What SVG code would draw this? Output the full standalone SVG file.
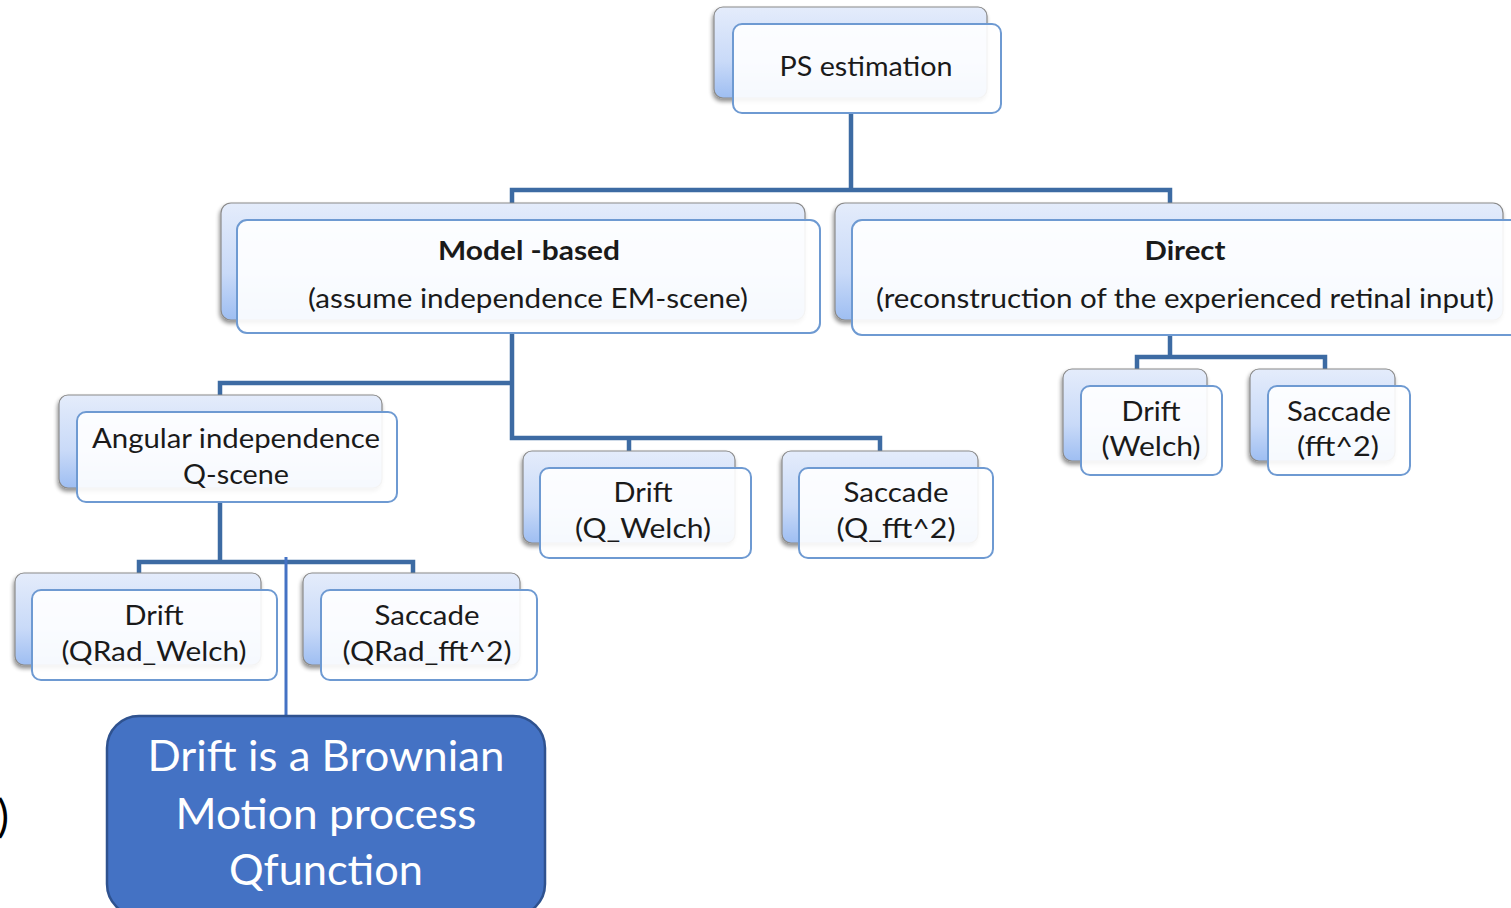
<svg xmlns="http://www.w3.org/2000/svg" width="1511" height="908" viewBox="0 0 1511 908">
<defs>
<linearGradient id="bg" x1="0" y1="0" x2="0" y2="1">
<stop offset="0" stop-color="#E4ECFB"/>
<stop offset="0.6" stop-color="#C9DAF8"/>
<stop offset="1" stop-color="#9EBEF2"/>
</linearGradient>
<filter id="sh" x="-10%" y="-10%" width="120%" height="130%">
<feGaussianBlur in="SourceAlpha" stdDeviation="2"/>
<feOffset dx="-1" dy="3"/>
<feComponentTransfer><feFuncA type="linear" slope="0.45"/></feComponentTransfer>
<feMerge><feMergeNode/><feMergeNode in="SourceGraphic"/></feMerge>
</filter>
</defs>
<style>
.back{fill:url(#bg);stroke:#8A8A8A;stroke-width:1.2;filter:url(#sh)}
.front{fill:#FFFFFF;fill-opacity:0.9;stroke:#6E9AD2;stroke-width:2}
.t{font-family:Lato,"Open Sans",sans-serif;font-size:27px;fill:#1A1A1A;text-anchor:middle}
.b{font-weight:bold}
.conn{fill:none;stroke:#3D6BA3;stroke-width:4.5;stroke-linejoin:miter}
.call{fill:#4472C4;stroke:#2F528F;stroke-width:2.5}
.ct{font-family:Lato,"Open Sans",sans-serif;font-size:42px;fill:#FFFFFF;text-anchor:middle}
</style>
<rect width="1511" height="908" fill="#FFFFFF"/>
<g id="connectors">
<path class="conn" d="M851 113 V190 M512 203 V190 H1170 V203"/>
<path class="conn" d="M512 333 V438 H880 V451 M629 438 V451 M220 395 V383 H512"/>
<path class="conn" d="M220 502 V562 M139 574 V562 H413 V574"/>
<path class="conn" d="M1170 335 V357 M1137 370 V357 H1325 V370"/>
<line x1="286" y1="557" x2="286" y2="716" stroke="#4472C4" stroke-width="3"/>
</g>
<g id="n-ps">
<rect class="back" x="714" y="7" width="273" height="91" rx="9"/>
<rect class="front" x="733" y="24" width="268" height="89" rx="9"/>
<text class="t" x="866" y="76" textLength="173" lengthAdjust="spacingAndGlyphs">PS estimation</text>
</g>
<g id="n-model">
<rect class="back" x="221" y="203" width="584" height="117" rx="10"/>
<rect class="front" x="237" y="220" width="583" height="113" rx="10"/>
<text class="t b" x="529" y="260" textLength="182" lengthAdjust="spacingAndGlyphs">Model -based</text>
<text class="t" x="528" y="308" textLength="440" lengthAdjust="spacingAndGlyphs">(assume independence EM-scene)</text>
</g>
<g id="n-direct">
<rect class="back" x="835" y="203" width="668" height="117" rx="10"/>
<rect class="front" x="852" y="220" width="670" height="115" rx="10"/>
<text class="t b" x="1185" y="260" textLength="81" lengthAdjust="spacingAndGlyphs">Direct</text>
<text class="t" x="1185" y="308" textLength="618" lengthAdjust="spacingAndGlyphs">(reconstruction of the experienced retinal input)</text>
</g>
<g id="n-angular">
<rect class="back" x="59" y="395" width="323" height="93" rx="9"/>
<rect class="front" x="77" y="412" width="320" height="90" rx="9"/>
<text class="t" x="236" y="448" textLength="288" lengthAdjust="spacingAndGlyphs">Angular independence</text>
<text class="t" x="236" y="484" textLength="106" lengthAdjust="spacingAndGlyphs">Q-scene</text>
</g>
<g id="n-drift-q">
<rect class="back" x="523" y="451" width="212" height="92" rx="9"/>
<rect class="front" x="540" y="468" width="211" height="90" rx="9"/>
<text class="t" x="643" y="502" textLength="59" lengthAdjust="spacingAndGlyphs">Drift</text>
<text class="t" x="643" y="538" textLength="136" lengthAdjust="spacingAndGlyphs">(Q_Welch)</text>
</g>
<g id="n-saccade-q">
<rect class="back" x="782" y="451" width="196" height="92" rx="9"/>
<rect class="front" x="799" y="468" width="194" height="90" rx="9"/>
<text class="t" x="896" y="502" textLength="105" lengthAdjust="spacingAndGlyphs">Saccade</text>
<text class="t" x="896" y="538" textLength="119" lengthAdjust="spacingAndGlyphs">(Q_fft^2)</text>
</g>
<g id="n-drift-qrad">
<rect class="back" x="15" y="573" width="246" height="92" rx="9"/>
<rect class="front" x="32" y="590" width="245" height="90" rx="9"/>
<text class="t" x="154" y="625" textLength="59" lengthAdjust="spacingAndGlyphs">Drift</text>
<text class="t" x="154" y="661" textLength="185" lengthAdjust="spacingAndGlyphs">(QRad_Welch)</text>
</g>
<g id="n-saccade-qrad">
<rect class="back" x="303" y="573" width="217" height="92" rx="9"/>
<rect class="front" x="321" y="590" width="216" height="90" rx="9"/>
<text class="t" x="427" y="625" textLength="105" lengthAdjust="spacingAndGlyphs">Saccade</text>
<text class="t" x="427" y="661" textLength="169" lengthAdjust="spacingAndGlyphs">(QRad_fft^2)</text>
</g>
<g id="n-drift-welch">
<rect class="back" x="1063" y="369" width="144" height="92" rx="9"/>
<rect class="front" x="1081" y="386" width="141" height="89" rx="9"/>
<text class="t" x="1151" y="421" textLength="59" lengthAdjust="spacingAndGlyphs">Drift</text>
<text class="t" x="1151" y="456" textLength="99" lengthAdjust="spacingAndGlyphs">(Welch)</text>
</g>
<g id="n-saccade-fft">
<rect class="back" x="1250" y="369" width="145" height="92" rx="9"/>
<rect class="front" x="1268" y="386" width="142" height="89" rx="9"/>
<text class="t" x="1339" y="421" textLength="104" lengthAdjust="spacingAndGlyphs">Saccade</text>
<text class="t" x="1338" y="456" textLength="82" lengthAdjust="spacingAndGlyphs">(fft^2)</text>
</g>
<g id="n-callout">
<rect class="call" x="107" y="716" width="438" height="200" rx="32"/>
<text class="ct" x="326" y="771" textLength="357" lengthAdjust="spacingAndGlyphs">Drift is a Brownian</text>
<text class="ct" x="326" y="829" textLength="301" lengthAdjust="spacingAndGlyphs">Motion process</text>
<text class="ct" x="326" y="885" textLength="194" lengthAdjust="spacingAndGlyphs">Qfunction</text>
</g>
<text x="9" y="832" font-family="Lato,'Open Sans',sans-serif" font-size="44" fill="#000000" text-anchor="end">)</text>
</svg>
